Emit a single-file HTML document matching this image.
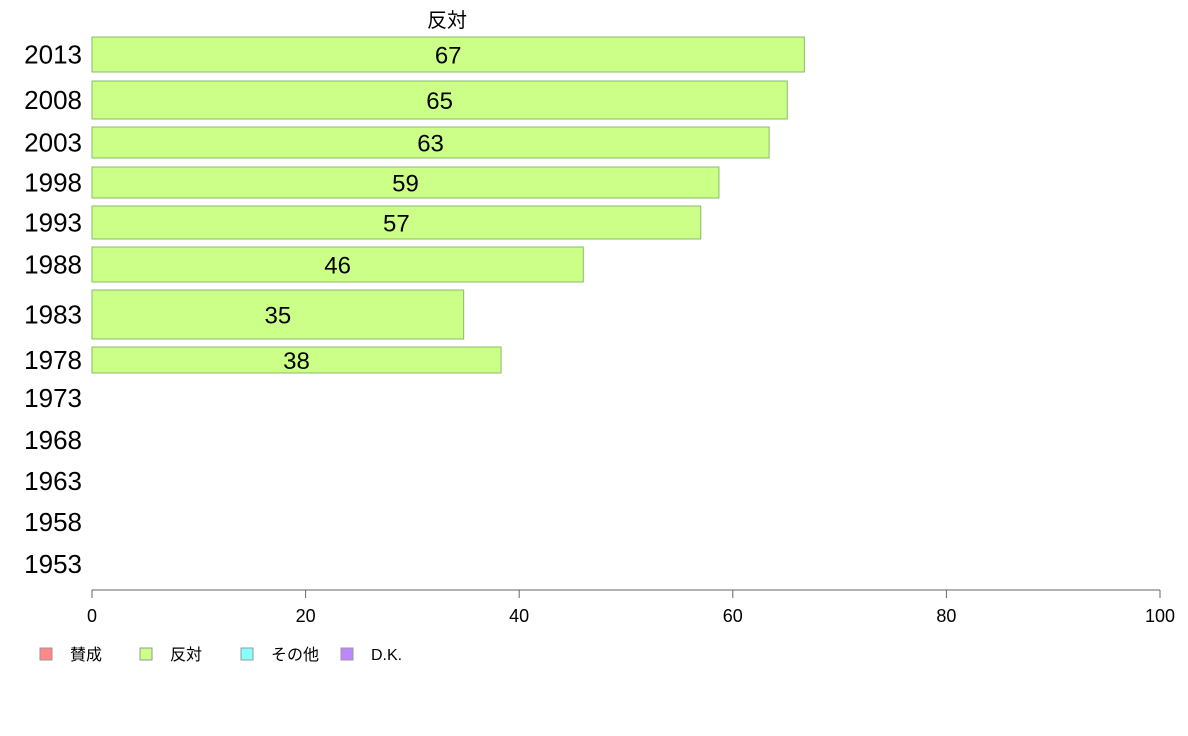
<!DOCTYPE html>
<html><head><meta charset="utf-8"><style>
body{margin:0;background:#fff;}
svg{display:block;font-family:"Liberation Sans","Noto Sans CJK JP",sans-serif;}
</style></head><body>
<svg id="chart" width="1188" height="736">
<text x="447" y="27" font-size="20" text-anchor="middle">反対</text>
<g id="bars"></g>
<g id="axis"></g>
<g font-size="16">
<rect x="40" y="648" width="12" height="12" fill="#ff8888" stroke="#999"/>
<text x="70" y="660">賛成</text>
<rect x="140" y="648" width="12" height="12" fill="#ccff88" stroke="#999"/>
<text x="170" y="660">反対</text>
<rect x="241" y="648" width="12" height="12" fill="#88ffff" stroke="#999"/>
<text x="271" y="660">その他</text>
<rect x="341" y="648" width="12" height="12" fill="#bb88ff" stroke="#999"/>
<text x="371" y="660">D.K.</text>
</g>
</svg>
<script>
const years=["2013","2008","2003","1998","1993","1988","1983","1978","1973","1968","1963","1958","1953"];
const values=[66.7,65.1,63.4,58.7,57.0,46.0,34.8,38.3,null,null,null,null,null];
const valueLabels=["67","65","63","59","57","46","35","38","","","","",""];
const ticks=[0,20,40,60,80,100];
// row band layout (pixel bands)
const bandTop=[37,81,127,167,206,247,290,347,386,428,469,510,552];
const bandBot=[72,119,158,198,239,282,339,373,410,452,493,534,576];
const X0=92,X1=1160;
const x=v=>X0+(X1-X0)*v/100;
const NS="http://www.w3.org/2000/svg";
const bars=document.getElementById('bars');
function mk(t,a,p){const e=document.createElementNS(NS,t);for(const k in a)e.setAttribute(k,a[k]);p.appendChild(e);return e;}
years.forEach((y,i)=>{
  const cy=(bandTop[i]+bandBot[i])/2;
  const t=mk('text',{x:82,y:cy+9,'font-size':26,'text-anchor':'end'},bars);
  t.textContent=y;
  
  
  if(values[i]!=null){
    const r=mk('rect',{x:X0,y:bandTop[i],width:x(values[i])-X0,height:bandBot[i]-bandTop[i],fill:'#ccff88',stroke:'#88bb66'},bars);
    
    
    const l=mk('text',{x:(X0+x(values[i]))/2,y:cy+9,'font-size':24,'text-anchor':'middle'},bars);
    l.textContent=valueLabels[i];
    
    
  }
});
const ax=document.getElementById('axis');
const line=mk('line',{x1:X0,x2:X1,y1:590,y2:590,stroke:'#666'},ax);


ticks.forEach(v=>{
  const tk=mk('line',{x1:x(v),x2:x(v),y1:590,y2:598,stroke:'#666'},ax);
  
  
  const t=mk('text',{x:x(v),y:622,'font-size':18,'text-anchor':'middle'},ax);
  t.textContent=v;
  
  
});
</script>
</body></html>
